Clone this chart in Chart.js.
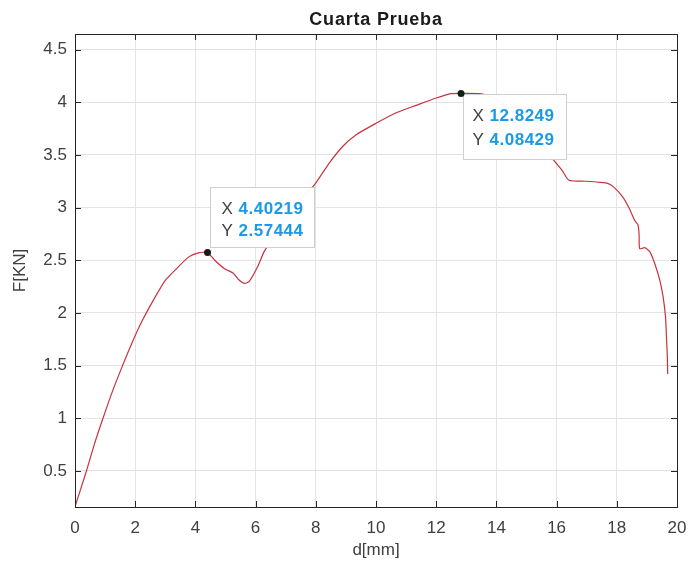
<!DOCTYPE html>
<html>
<head>
<meta charset="utf-8">
<script src="https://cdn.jsdelivr.net/npm/chart.js@4.4.1/dist/chart.umd.min.js"></script>
<style>
  html, body { margin: 0; padding: 0; background: #ffffff; }
  #wrap { width: 690px; height: 567px; }
</style>
</head>
<body>
<div id="wrap"><canvas id="c" width="690" height="567"></canvas></div>
<script>
// ---- data ----
const dMm = [0, 0.1, 0.38, 0.65, 0.93, 1.25, 1.58, 1.9, 2.24, 2.68, 3.0, 3.44, 3.77, 4.1, 4.40219,
  4.64, 4.97, 5.25, 5.46, 5.63, 5.79, 6.07, 6.28, 6.6, 7.0, 7.4, 7.94, 8.44, 8.89, 9.33, 10.0,
  10.67, 11.33, 12.0, 12.44, 12.8249, 13.5, 14.0, 14.5, 15.0, 15.5, 15.85, 16.19, 16.41, 16.97,
  17.42, 17.70, 17.92, 18.2, 18.42, 18.59, 18.70, 18.74, 18.76, 18.93, 19.1, 19.26, 19.43,
  19.54, 19.62, 19.65, 19.68, 19.69];
const fKN = [0.16, 0.25, 0.5, 0.76, 1.0, 1.26, 1.5, 1.72, 1.93, 2.16, 2.31, 2.44, 2.53, 2.57, 2.57444,
  2.5, 2.42, 2.38, 2.31, 2.28, 2.30, 2.44, 2.58, 2.72, 2.90, 3.05, 3.21, 3.42, 3.58, 3.69, 3.80,
  3.90, 3.97, 4.04, 4.08, 4.08429, 4.08, 4.03, 3.92, 3.78, 3.62, 3.47, 3.35, 3.26, 3.25,
  3.24, 3.23, 3.19, 3.10, 2.99, 2.88, 2.84, 2.75, 2.61, 2.62, 2.58, 2.47, 2.31,
  2.15, 1.96, 1.77, 1.58, 1.42];
const tipX = [4.40219, 12.8249];
const tipY = [2.57444, 4.08429];
const xTicks = [0, 2, 4, 6, 8, 10, 12, 14, 16, 18, 20];
const yTicks = [0.5, 1, 1.5, 2, 2.5, 3, 3.5, 4, 4.5];
const xRange = [0, 20];
const yRange = [0.158, 4.648];
const titleText = 'Cuarta Prueba';
const xLabel = 'd[mm]';
const yLabel = 'F[KN]';

const FONT = "'Liberation Sans', Arial, Helvetica, sans-serif";
const TXT = '#404040';

const curve = dMm.map((x, i) => ({ x: x, y: fKN[i] }));

// title centred over the axes (MATLAB style)
const titlePlugin = {
  id: 'titlePlugin',
  afterDraw(chart) {
    const { ctx, chartArea: a } = chart;
    ctx.save();
    ctx.font = 'bold 18px ' + FONT;
    if ('letterSpacing' in ctx) ctx.letterSpacing = '0.8px';
    ctx.fillStyle = '#1a1a1a';
    ctx.textAlign = 'center';
    ctx.textBaseline = 'alphabetic';
    ctx.fillText(titleText, (a.left + a.right) / 2, 24.5);
    ctx.restore();
  }
};

// box + inner ticks (MATLAB style)
const boxPlugin = {
  id: 'boxPlugin',
  afterDatasetsDraw(chart) {
    const { ctx, chartArea: a, scales } = chart;
    ctx.save();
    ctx.strokeStyle = '#262626';
    ctx.lineWidth = 1;
    ctx.beginPath();
    const L = 6;
    xTicks.forEach(v => {
      const px = Math.round(scales.x.getPixelForValue(v)) + 0.5;
      ctx.moveTo(px, a.bottom); ctx.lineTo(px, a.bottom - L);
      ctx.moveTo(px, a.top); ctx.lineTo(px, a.top + L);
    });
    yTicks.forEach(v => {
      const py = Math.round(scales.y.getPixelForValue(v)) + 0.5;
      ctx.moveTo(a.left, py); ctx.lineTo(a.left + L, py);
      ctx.moveTo(a.right, py); ctx.lineTo(a.right - L, py);
    });
    ctx.stroke();
    ctx.strokeRect(Math.round(a.left) + 0.5, Math.round(a.top) + 0.5,
      Math.round(a.right - a.left), Math.round(a.bottom - a.top));
    ctx.restore();
  }
};

// data tips
const tipPlugin = {
  id: 'tipPlugin',
  afterDraw(chart) {
    const { ctx, scales } = chart;
    const offs = [{ dx: 2, dy: -65, w: 104, h: 60, tx: 11, l1: 21.5, l2: 44 },
                  { dx: 2, dy: 1, w: 103, h: 65, tx: 9, l1: 22, l2: 46 }];
    ctx.save();
    tipX.forEach((xv, i) => {
      const px = scales.x.getPixelForValue(xv);
      const py = scales.y.getPixelForValue(tipY[i]);
      const o = offs[i];
      const bx = Math.round(px + o.dx) + 0.5, by = Math.round(py + o.dy) + 0.5;
      ctx.fillStyle = 'rgba(255,255,255,0.97)';
      ctx.fillRect(bx, by, o.w, o.h);
      ctx.strokeStyle = '#cfcfcf';
      ctx.lineWidth = 1;
      ctx.strokeRect(bx, by, o.w, o.h);
      ctx.textBaseline = 'middle';
      if ('letterSpacing' in ctx) ctx.letterSpacing = '0.5px';
      const lines = [['X ', xv.toString(), o.l1], ['Y ', tipY[i].toString(), o.l2]];
      lines.forEach(ln => {
        const ty = by + ln[2];
        ctx.font = '17px ' + FONT;
        ctx.fillStyle = '#404040';
        ctx.fillText(ln[0], bx + o.tx, ty);
        const w = ctx.measureText(ln[0]).width;
        ctx.font = 'bold 17px ' + FONT;
        ctx.fillStyle = '#1a9ae6';
        ctx.fillText(ln[1], bx + o.tx + w, ty);
      });
      ctx.fillStyle = '#1a1a1a';
      ctx.beginPath();
      ctx.arc(px, py, 3.5, 0, Math.PI * 2);
      ctx.fill();
    });
    ctx.restore();
  }
};

new Chart(document.getElementById('c'), {
  type: 'scatter',
  data: {
    datasets: [{
      data: curve,
      showLine: true,
      borderColor: '#c8323f',
      borderWidth: 1.2,
      pointRadius: 0,
      tension: 0.2,
      fill: false
    }]
  },
  options: {
    responsive: false,
    animation: false,
    events: [],
    layout: { autoPadding: false, padding: { left: 0, right: 13, top: 34, bottom: 0 } },
    plugins: {
      legend: { display: false },
      tooltip: { enabled: false },
      title: { display: false }
    },
    scales: {
      x: {
        type: 'linear',
        min: xRange[0], max: xRange[1],
        afterBuildTicks: s => { s.ticks = xTicks.map(v => ({ value: v })); },
        afterFit: s => { s.height = 60; s.paddingLeft = 0; s.paddingRight = 0; },
        grid: { color: '#e3e3e3', drawTicks: false, lineWidth: 1 },
        border: { display: false },
        ticks: { color: TXT, padding: 11, font: { family: FONT, size: 17 }, maxRotation: 0,
                 callback: v => String(v) },
        title: { display: true, text: xLabel, color: TXT, font: { family: FONT, size: 17 }, padding: { top: 0, bottom: 6 } }
      },
      y: {
        type: 'linear',
        min: yRange[0], max: yRange[1],
        afterBuildTicks: s => { s.ticks = yTicks.map(v => ({ value: v })); },
        afterFit: s => { s.width = 75; s.paddingTop = 0; s.paddingBottom = 0; },
        grid: { color: '#e3e3e3', drawTicks: false, lineWidth: 1 },
        border: { display: false },
        ticks: { color: TXT, padding: 8, font: { family: FONT, size: 17 }, callback: v => String(v) },
        title: { display: true, text: yLabel, color: TXT, font: { family: FONT, size: 17 }, padding: { top: 10, bottom: 0 } }
      }
    }
  },
  plugins: [boxPlugin, tipPlugin, titlePlugin]
});
</script>
</body>
</html>
